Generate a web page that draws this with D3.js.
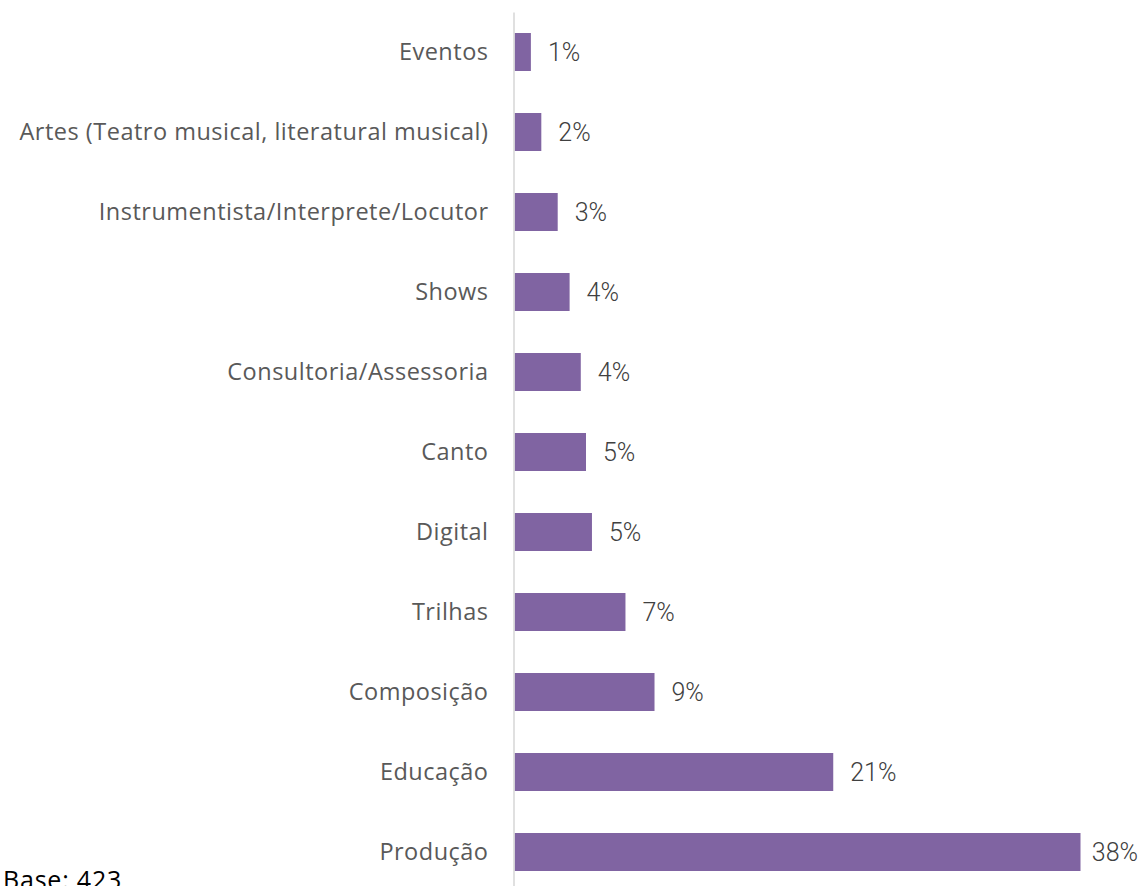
<!DOCTYPE html>
<html>
<head>
<meta charset="utf-8">
<script src="https://cdn.jsdelivr.net/npm/d3@7"></script>
<style>
  body { margin: 0; background: #fff; }
  svg { display: block; }
</style>
</head>
<body>
<div id="grafico"></div>
<script>
// Datos
const categorias = [
  "Eventos",
  "Artes (Teatro musical, literatural musical)",
  "Instrumentista/Interprete/Locutor",
  "Shows",
  "Consultoria/Assessoria",
  "Canto",
  "Digital",
  "Trilhas",
  "Composição",
  "Educação",
  "Produção"
];
const valores = [1.1, 1.8, 2.9, 3.7, 4.45, 4.8, 5.2, 7.45, 9.4, 21.4, 38.0];
const nota = "Base: 423";

const W = 1143, H = 886;

const svg = d3.select("#grafico")
  .append("svg")
  .attr("width", W)
  .attr("height", H);

const y = d3.scaleBand()
  .domain(categorias)
  .range([12, 892])
  .paddingInner(0.525)
  .paddingOuter(0.2625);

const x = d3.scaleLinear()
  .domain([0, 38])
  .range([514.5, 1080.5]);

const datos = categorias.map((c, i) => ({ cat: c, val: valores[i] }));

// Barras
svg.selectAll("rect.barra")
  .data(datos)
  .enter()
  .append("rect")
  .attr("class", "barra")
  .attr("x", x(0))
  .attr("y", d => y(d.cat))
  .attr("width", d => x(d.val) - x(0))
  .attr("height", y.bandwidth())
  .attr("fill", "#8064a2");

// Eje vertical (linea gris)
const eje = svg.append("g")
  .attr("transform", `translate(${x(0) - 1},0)`)
  .call(d3.axisLeft(y).tickSize(0).tickPadding(25));

eje.select(".domain")
  .attr("stroke", "#d9d9d9")
  .attr("stroke-width", 1.6);

eje.selectAll(".tick text")
  .attr("fill", "#595959")
  .style("font-family", "'Open Sans', sans-serif")
  .style("font-size", "23.5px")
  .style("letter-spacing", "0.5px");

// Etiquetas de valores
const etiquetas = svg.selectAll("text.valor")
  .data(datos)
  .enter()
  .append("text")
  .attr("class", "valor")
  .attr("x", d => x(d.val) + 17)
  .attr("y", d => y(d.cat) + y.bandwidth() / 2)
  .attr("dy", "0.36em")
  .attr("fill", "#404040")
  .style("font-family", "Roboto, sans-serif")
  .style("font-weight", 300)
  .style("font-size", "25px")
  .text(d => Math.round(d.val) + "%");

// Ajustar la ultima etiqueta para que no se salga
etiquetas.each(function () {
  const t = d3.select(this);
  const w = this.getComputedTextLength();
  const x0 = +t.attr("x");
  if (x0 + w > W - 5) t.attr("x", W - 5 - w);
});

// Nota
svg.append("text")
  .attr("x", 3)
  .attr("y", 889)
  .attr("fill", "#000")
  .style("font-family", "'Open Sans', sans-serif")
  .style("font-size", "25px")
  .style("letter-spacing", "0.8px")
  .text(nota);
</script>
</body>
</html>
